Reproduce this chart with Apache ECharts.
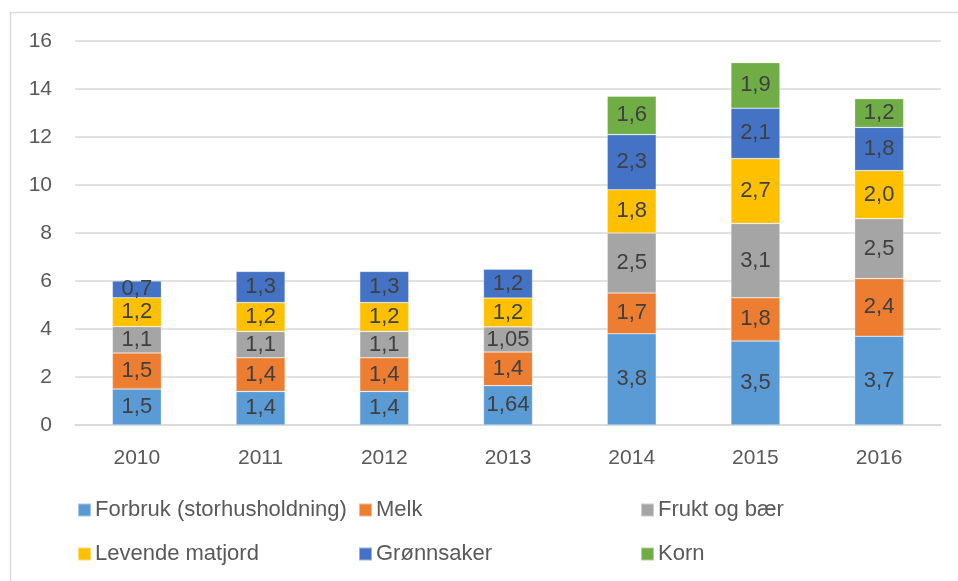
<!DOCTYPE html>
<html>
<head>
<meta charset="utf-8">
<script src="https://cdn.jsdelivr.net/npm/echarts@6/dist/echarts.min.js"></script>
<style>
    html, body { margin: 0; padding: 0; background: #fff; }
    #chart { width: 958px; height: 581px; }
</style>
</head>
<body>
<div id="chart"></div>
<script>
const years = ['2010', '2011', '2012', '2013', '2014', '2015', '2016'];
const forbruk = [1.5, 1.4, 1.4, 1.64, 3.8, 3.5, 3.7];
const melk = [1.5, 1.4, 1.4, 1.4, 1.7, 1.8, 2.4];
const frukt = [1.1, 1.1, 1.1, 1.05, 2.5, 3.1, 2.5];
const matjord = [1.2, 1.2, 1.2, 1.2, 1.8, 2.7, 2.0];
const gronnsaker = [0.7, 1.3, 1.3, 1.2, 2.3, 2.1, 1.8];
const korn = [null, null, null, null, 1.6, 1.9, 1.2];

const FONT = '"Liberation Sans", Arial, sans-serif';

// norsk desimalkomma
function fmt(p) {
    let v = p.value;
    let s = Number.isInteger(v) ? v.toFixed(1) : String(v);
    return s.replace('.', ',');
}

function bar(name, data, color) {
    return {
        name: name,
        type: 'bar',
        stack: 'total',
        barWidth: 49,
        data: data,
        itemStyle: { color: color, borderColor: 'rgba(255,255,255,0.45)', borderWidth: 0.6 },
        label: {
            show: true,
            position: 'inside',
            formatter: fmt,
            color: '#404040',
            fontSize: 22,
            fontFamily: FONT
        }
    };
}

function legend(left, names) {
    return {
        orient: 'vertical',
        left: left,
        top: 494,
        itemWidth: 13,
        itemHeight: 13,
        itemGap: 22,
        icon: 'rect',
        data: names,
        selectedMode: false,
        textStyle: { color: '#595959', fontSize: 22, fontFamily: FONT, lineHeight: 22, padding: [0, 0, 0, -1] }
    };
}

let mycharts = echarts.init(document.getElementById('chart'));
mycharts.setOption({
    animation: false,
    backgroundColor: '#fff',
    grid: { left: 75, right: 17, top: 41, bottom: 156 },
    graphic: [{
        type: 'rect',
        shape: { x: 10.5, y: 12.5, width: 1000, height: 1000 },
        style: { fill: 'none', stroke: '#d9d9d9', lineWidth: 1.5 },
        silent: true
    }],
    legend: [
        legend(72, ['Forbruk (storhusholdning)', 'Levende matjord']),
        legend(353, ['Melk', 'Grønnsaker']),
        legend(635, ['Frukt og bær', 'Korn'])
    ],
    xAxis: {
        type: 'category',
        data: years,
        axisLine: { show: true, lineStyle: { color: '#d9d9d9', width: 1.5 } },
        axisTick: { show: false },
        axisLabel: { color: '#595959', fontSize: 21, fontFamily: FONT, margin: 23 }
    },
    yAxis: {
        type: 'value',
        min: 0,
        max: 16,
        interval: 2,
        axisLine: { show: false },
        axisTick: { show: false },
        splitLine: { lineStyle: { color: '#d9d9d9', width: 1.5 } },
        axisLabel: { color: '#595959', fontSize: 21, fontFamily: FONT, margin: 23 }
    },
    series: [
        bar('Forbruk (storhusholdning)', forbruk, '#5B9BD5'),
        bar('Melk', melk, '#ED7D31'),
        bar('Frukt og bær', frukt, '#A5A5A5'),
        bar('Levende matjord', matjord, '#FFC000'),
        bar('Grønnsaker', gronnsaker, '#4472C4'),
        bar('Korn', korn, '#70AD47')
    ]
});
</script>
</body>
</html>
